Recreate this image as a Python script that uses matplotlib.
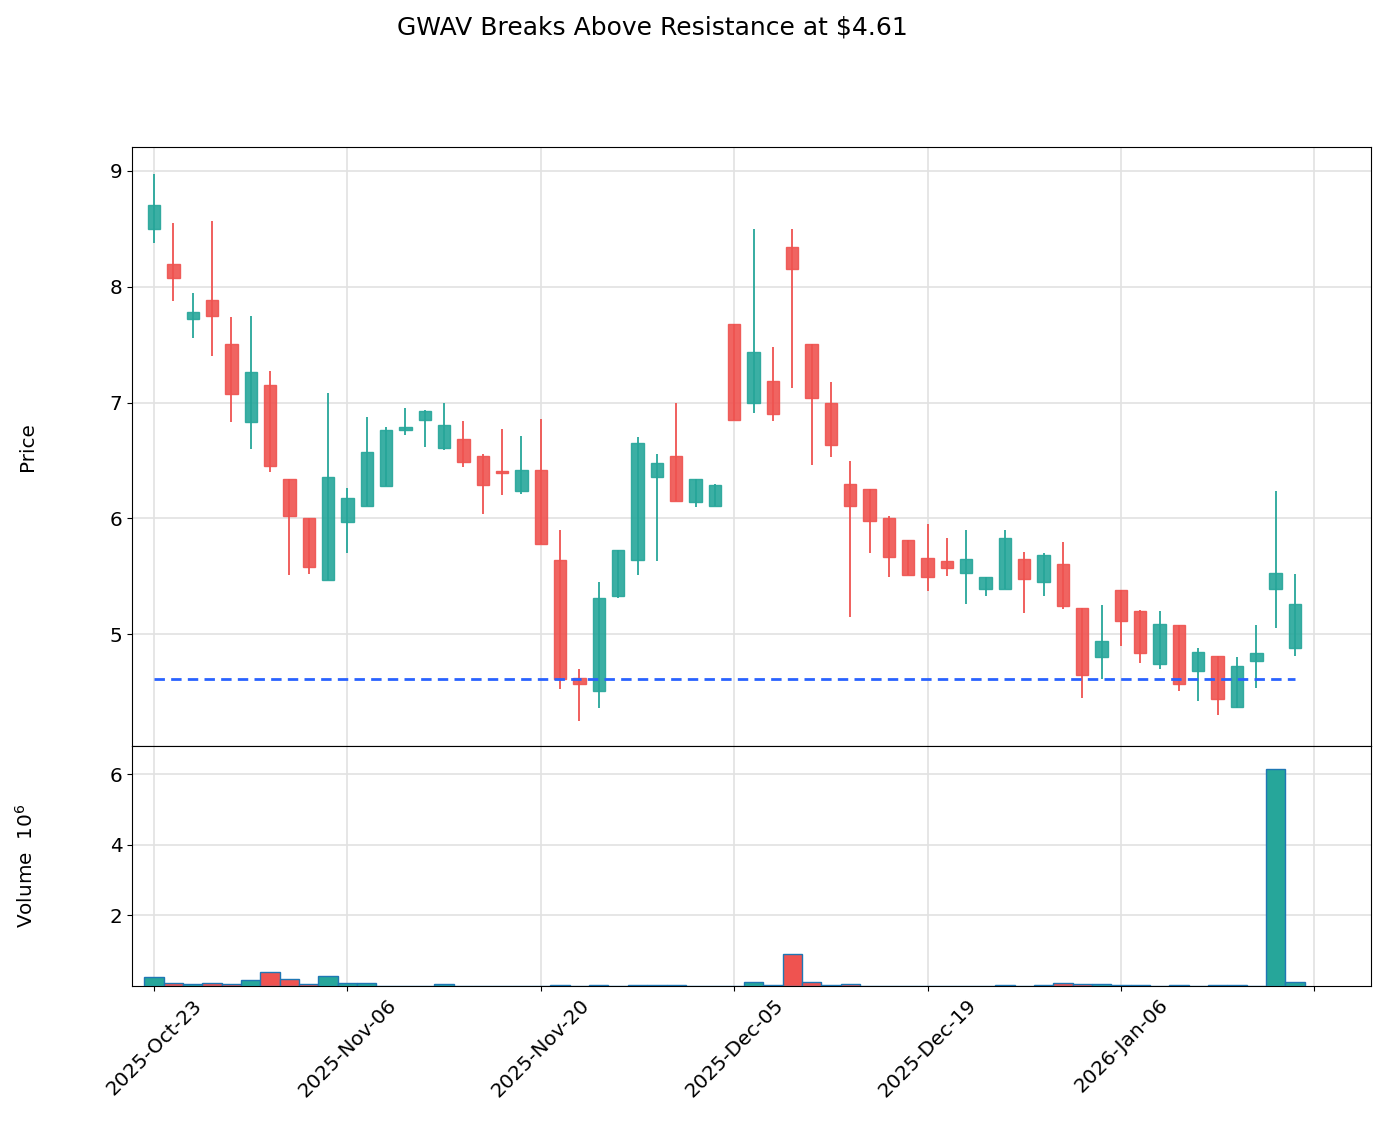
import numpy as np
import pandas as pd
import matplotlib
matplotlib.use("Agg")
import matplotlib.pyplot as plt

# trading days (weekends and US market holidays removed)
dates = pd.bdate_range("2025-10-23", "2026-01-20")
dates = dates.drop(pd.to_datetime(["2025-11-27", "2025-12-25", "2026-01-01", "2026-01-19"]))

opens = [8.50, 8.20, 7.72, 7.89, 7.51, 6.83, 7.15, 6.34, 6.00, 5.47,
         5.97, 6.11, 6.28, 6.76, 6.85, 6.61, 6.69, 6.54, 6.41, 6.24,
         6.42, 5.64, 4.62, 4.51, 5.33, 5.64, 6.36, 6.54, 6.14, 6.11,
         7.68, 7.00, 7.19, 8.34, 7.51, 7.00, 6.30, 6.25, 6.00, 5.81,
         5.66, 5.63, 5.53, 5.39, 5.39, 5.65, 5.45, 5.61, 5.23, 4.80,
         5.38, 5.20, 4.74, 5.08, 4.68, 4.81, 4.37, 4.77, 5.39, 4.88]
highs = [8.97, 8.55, 7.95, 8.57, 7.74, 7.75, 7.27, 6.34, 6.00, 7.08,
         6.26, 6.88, 6.79, 6.95, 6.94, 7.00, 6.84, 6.56, 6.77, 6.71,
         6.86, 5.90, 4.70, 5.45, 5.73, 6.70, 6.56, 7.00, 6.34, 6.30,
         7.68, 8.50, 7.48, 8.50, 7.51, 7.18, 6.50, 6.25, 6.02, 5.81,
         5.95, 5.83, 5.90, 5.49, 5.90, 5.71, 5.70, 5.80, 5.23, 5.25,
         5.38, 5.21, 5.20, 5.08, 4.88, 4.81, 4.80, 5.08, 6.24, 5.52]
lows = [8.38, 7.88, 7.56, 7.40, 6.83, 6.60, 6.40, 5.51, 5.52, 5.47,
        5.70, 6.11, 6.28, 6.72, 6.62, 6.59, 6.44, 6.04, 6.20, 6.21,
        5.78, 4.53, 4.25, 4.36, 5.31, 5.51, 5.63, 6.15, 6.10, 6.11,
        6.85, 6.91, 6.84, 7.13, 6.46, 6.53, 5.15, 5.70, 5.49, 5.51,
        5.37, 5.50, 5.26, 5.33, 5.39, 5.18, 5.33, 5.22, 4.45, 4.61,
        4.90, 4.75, 4.70, 4.51, 4.42, 4.30, 4.36, 4.54, 5.05, 4.81]
closes = [8.71, 8.08, 7.78, 7.75, 7.07, 7.26, 6.45, 6.02, 5.58, 6.36,
          6.18, 6.57, 6.76, 6.79, 6.93, 6.81, 6.49, 6.29, 6.39, 6.42,
          5.78, 4.61, 4.57, 5.31, 5.73, 6.65, 6.48, 6.15, 6.34, 6.29,
          6.85, 7.44, 6.90, 8.15, 7.04, 6.63, 6.11, 5.98, 5.67, 5.51,
          5.49, 5.57, 5.65, 5.49, 5.83, 5.48, 5.68, 5.24, 4.65, 4.94,
          5.11, 4.84, 5.09, 4.57, 4.85, 4.44, 4.73, 4.84, 5.53, 5.26]
# volume in millions
volumes = [0.25, 0.08, 0.045, 0.08, 0.045, 0.18, 0.41, 0.20, 0.045, 0.27,
           0.08, 0.08, 0.01, 0.01, 0.01, 0.045, 0.01, 0.01, 0.01, 0.01,
           0.01, 0.04, 0.01, 0.04, 0.01, 0.04, 0.015, 0.015, 0.005, 0.005,
           0.01, 0.11, 0.02, 0.90, 0.11, 0.02, 0.05, 0.01, 0.01, 0.01,
           0.01, 0.01, 0.01, 0.01, 0.03, 0.01, 0.03, 0.08, 0.05, 0.05,
           0.03, 0.03, 0.01, 0.03, 0.01, 0.03, 0.03, 0.01, 6.15, 0.11]

resistance = 4.61
title = "GWAV Breaks Above Resistance at $4.61"

up_col = "#26a69a"
down_col = "#ef5350"

x = np.arange(len(opens))
o = np.array(opens)
h = np.array(highs)
l = np.array(lows)
c = np.array(closes)
up = c >= o
colors = np.where(up, up_col, down_col)

fig = plt.figure(figsize=(13.87, 11.26), dpi=100)
W, H = 1387, 1126
ax = fig.add_axes([132 / W, (H - 746) / H, (1371 - 132) / W, (746 - 147) / H])
axv = fig.add_axes([132 / W, (H - 986) / H, (1371 - 132) / W, (986 - 746) / H], sharex=ax)

# candles
ax.vlines(x, l, h, colors=colors, linewidth=1.3, zorder=2)
body_lo = np.minimum(o, c)
body_hi = np.maximum(o, c)
ax.bar(x, body_hi - body_lo, bottom=body_lo, width=0.64, color=colors,
       alpha=0.9, edgecolor=colors, linewidth=1, zorder=3)

ax.plot([x[0], x[-1]], [resistance, resistance], color="#2962ff",
        linewidth=2, dashes=(3.75, 2.25), zorder=4)

ax.set_ylim(4.035, 9.207)
ax.set_yticks([5, 6, 7, 8, 9])
ax.set_ylabel("Price", fontsize=14.4)
ax.yaxis.set_label_coords(-0.077, 0.5)
ax.grid(True, color="#e2e2e2", linewidth=1.2)
ax.set_axisbelow(True)
ax.tick_params(axis="x", which="both", bottom=False, labelbottom=False)
ax.tick_params(axis="y", labelsize=14.4)

# volume
axv.bar(x, volumes, width=1.0, color=colors, edgecolor="#1f77b4", linewidth=1, zorder=3)
axv.set_ylim(0, 6.8)
axv.set_yticks([2, 4, 6])
axv.set_ylabel("Volume  $10^{6}$", fontsize=14.4)
axv.yaxis.set_label_coords(-0.077, 0.5)
axv.grid(True, color="#e2e2e2", linewidth=1.2)
axv.set_axisbelow(True)
axv.tick_params(axis="y", labelsize=14.4)

ticks = list(range(0, 61, 10))
labels = [dates[t].strftime("%Y-%b-%d") if t < len(dates) else "" for t in ticks]
axv.set_xticks(ticks)
axv.set_xticklabels(labels, rotation=45, ha="center", fontsize=14.4)
axv.set_xlim(-1.14, 62.93)

fig.text(652 / W, 1 - 27 / H, title, ha="center", va="center", fontsize=18)

fig.savefig("out.png", dpi=100)
